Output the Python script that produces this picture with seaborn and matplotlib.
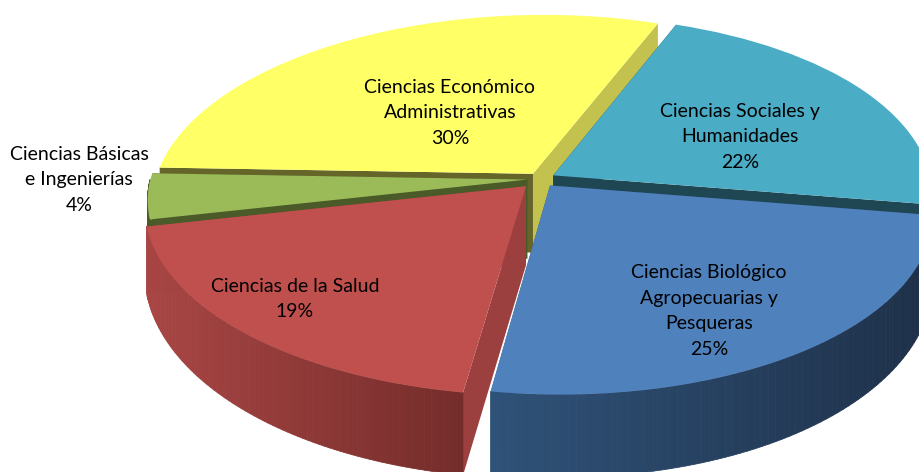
import numpy as np
import seaborn as sns
import matplotlib.pyplot as plt
from matplotlib.collections import PolyCollection
from matplotlib.colors import to_rgb
from matplotlib.transforms import Transform

categorias = ["Ciencias Sociales y\nHumanidades", "Ciencias Económico\nAdministrativas",
              "Ciencias Básicas\ne Ingenierías", "Ciencias de la Salud",
              "Ciencias Biológico\nAgropecuarias y\nPesqueras"]
valores = [22, 30, 4, 19, 25]

colores = ["#4BACC6", "#FFFF66", "#9BBB59", "#C0504D", "#4F81BD"]
# cara de corte en theta1 / theta2
cara1 = ["#1F4653", "#C3C24F", "#4A5A28", "#9B403E", "#2F5278"]
cara2 = ["#1F4653", "#65652A", "#4A5A28", "#9B403E", "#2F5278"]
# pared exterior, de izquierda a derecha
pared = [("#1F4653", "#1F4653"), ("#8A8A30", "#8A8A30"), ("#4A5A28", "#4A5A28"),
         ("#A84644", "#742C2A"), ("#2F5278", "#1E3048")]

# posicion de las etiquetas en pixeles
pos_texto = [(740, 137), (450, 113), (79, 180), (295, 299), (709, 311)]

W, H = 920, 472
cx, cy = 540, 179    # centro del pastel en pixeles
rx = 377             # radio horizontal en pixeles
A, k = 180.5, 0.128  # perspectiva
s, s2 = 0.03, 0.02
prof_centro = 79     # profundidad en el vertice de cada porcion


def proy(x, y):
    x, y = np.asarray(x, float), np.asarray(y, float)
    d = 1 + k * y
    return cx + rx * (x + s * np.maximum(y, 0) - s2 * np.minimum(y, 0)) / d, cy - A * y / d


class Persp(Transform):
    input_dims = output_dims = 2

    def transform_non_affine(self, values):
        px, py = proy(values[:, 0], values[:, 1])
        return np.column_stack([px, py])


def profundidad(y):
    return 62 - 20 * y


sns.set_theme(style="white")
plt.rcParams["font.family"] = ["Lato", "DejaVu Sans"]

fig = plt.figure(figsize=(W / 100, H / 100), dpi=100)
ax = fig.add_axes([0, 0, 1, 1])

wedges, _ = ax.pie(valores, colors=colores, startangle=-9.2, explode=[0.04, 0.035, 0.034, 0.055, 0.044],
                   radius=1, wedgeprops={"linewidth": 0})
ax.set_aspect("auto")

orden = [1, 0, 2, 3, 4]  # de atras hacia adelante
persp = Persp()
for z, i in enumerate(orden):
    w = wedges[i]
    x0, y0 = w.center
    base = 2 + z
    w.set_zorder(base + 0.5)
    w.set_transform(persp + ax.transData)
    for theta, col in ((w.theta1, cara1[i]), (w.theta2, cara2[i])):
        xe = x0 + np.cos(np.radians(theta))
        ye = y0 + np.sin(np.radians(theta))
        pxs, pys = proy([x0, xe], [y0, ye])
        ax.fill([pxs[0], pxs[1], pxs[1], pxs[0]],
                [pys[0], pys[1], pys[1] + profundidad(ye), pys[0] + prof_centro],
                color=col, lw=0, zorder=base)

    t = np.radians(np.linspace(w.theta1, w.theta2, 80))
    t = t[np.sin(t) < 0]
    if len(t) > 1:
        ys = y0 + np.sin(t)
        pxs, pys = proy(x0 + np.cos(t), ys)
        prof = profundidad(ys)
        polys = []
        cols = []
        c1, c2 = np.array(to_rgb(pared[i][0])), np.array(to_rgb(pared[i][1]))
        for j in range(len(t) - 1):
            polys.append([(pxs[j], pys[j]), (pxs[j + 1], pys[j + 1]),
                          (pxs[j + 1], pys[j + 1] + prof[j + 1]), (pxs[j], pys[j] + prof[j])])
            u = (pxs[j] - pxs.min()) / (pxs.max() - pxs.min())
            cols.append(c1 + (c2 - c1) * u)
        ax.add_collection(PolyCollection(polys, facecolors=cols, edgecolors=cols, linewidths=0.6,
                                         zorder=base + 0.2))

ax.set_xlim(0, W)
ax.set_ylim(H, 0)
ax.axis("off")

for cat, v, (px, py) in zip(categorias, valores, pos_texto):
    fig.text(px / W, 1 - py / H, f"{cat}\n{v}%", ha="center", va="center", fontsize=14,
             color="#000000", linespacing=1.62, zorder=20)

fig.savefig("out.png", dpi=100)
